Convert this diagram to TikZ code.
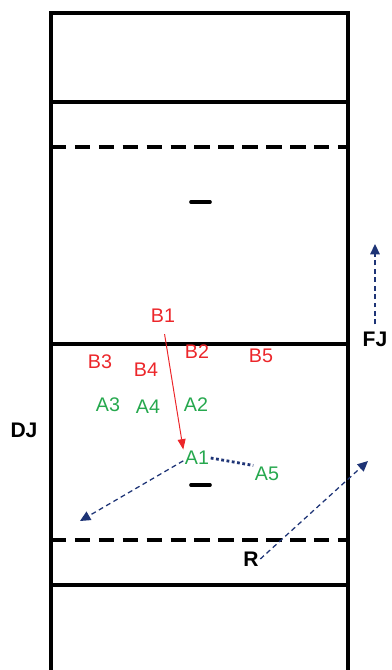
\documentclass[tikz,border=0pt]{standalone}
\usepackage{fontspec}
\setmainfont{Liberation Sans}
\usetikzlibrary{arrows.meta,positioning}
\definecolor{teamB}{RGB}{236,38,42}
\definecolor{teamA}{RGB}{38,168,78}
\definecolor{navyln}{RGB}{30,52,118}
\tikzset{
  courtln/.style={line width=2.2pt, black},
  attackln/.style={dash pattern=on 11pt off 6pt, line width=2.8pt, black},
  markln/.style={line width=2.6pt, line cap=round},
  plyB/.style={text=teamB, font=\fontsize{14}{16}\selectfont, inner sep=1pt},
  plyA/.style={text=teamA, font=\fontsize{14}{16}\selectfont, inner sep=1pt},
  refr/.style={font=\bfseries\fontsize{15}{17}\selectfont, inner sep=1pt},
  hitln/.style={-{Triangle[length=2.6mm,width=2mm]}, line width=0.7pt, teamB},
  moveln/.style={-{Triangle[length=2.6mm,width=2.4mm]}, dash pattern=on 3.5pt off 2.5pt, line width=0.9pt, navyln},
  passln/.style={dash pattern=on 2pt off 1.8pt, line width=2pt, navyln},
}
\begin{document}
\begin{tikzpicture}[x=0.025cm, y=-0.025cm]
    \useasboundingbox (0,0) rectangle (391,670);
    % court outline and lines
    \draw[courtln] (51,670) -- (51,13) -- (348,13) -- (348,670);
    \draw[courtln] (51,102) -- (348,102);
    \draw[courtln] (51,344) -- (348,344);
    \draw[courtln] (51,585) -- (348,585);
    \draw[attackln] (51,147) -- (348,147);
    \draw[attackln] (51,540) -- (348,540);
    \draw[markln] (191,202) -- (210,202);
    \draw[markln] (191,485) -- (210,485);
    % team B
    \node[plyB] (B1) at (163,316) {B1};
    \node[plyB] (B2) at (197,352) {B2};
    \node[plyB] (B3) at (100,362) {B3};
    \node[plyB] (B4) at (146,370) {B4};
    \node[plyB] (B5) at (261,356) {B5};
    % team A
    \node[plyA] (A1) at (197,458) {A1};
    \node[plyA] (A2) at (196,405) {A2};
    \node[plyA] (A3) at (108,405) {A3};
    \node[plyA] (A4) at (148,407) {A4};
    \node[plyA] (A5) at (267,474) {A5};
    % officials
    \node[refr] (DJ) at (24,430) {DJ};
    \node[refr] (FJ) at (375,339) {FJ};
    \node[refr] (R) at (251,559) {R};
    \coordinate (FJend) at (375,244);
    \coordinate (A1end) at (80,521);
    \coordinate (Rend) at (368,461);
    % moves
    \draw[hitln, shorten <=7pt] (B1.south) -- (A1.north west);
    \draw[passln] (A1.east) -- (A5.north west);
    \draw[moveln] ([yshift=-2pt]A1.west) -- (A1end);
    \draw[moveln] (R.east) -- (Rend);
    \draw[moveln, shorten <=4pt] (FJ.north) -- (FJend);
\end{tikzpicture}
\end{document}
